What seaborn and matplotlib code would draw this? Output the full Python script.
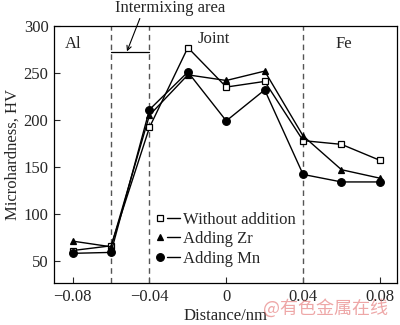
import matplotlib
matplotlib.use("Agg")
import matplotlib.pyplot as plt
from matplotlib.lines import Line2D
from matplotlib.legend_handler import HandlerTuple
import seaborn as sns
import pandas as pd

# Microhardness profile across the Al/Fe joint
distance = [-0.08, -0.06, -0.04, -0.02, 0.0, 0.02, 0.04, 0.06, 0.08]
hv_without = [61, 66, 192, 277, 235, 241, 178, 174, 157]
hv_zr = [71, 65, 205, 248, 242, 252, 183, 147, 138]
hv_mn = [58, 59, 211, 251, 199, 232, 142, 134, 134]

series_names = ["Without addition", "Adding Zr", "Adding Mn"]
x_ticks = [-0.08, -0.04, 0, 0.04, 0.08]
x_tick_labels = ["\u22120.08", "\u22120.04", "0", "0.04", "0.08"]
y_ticks = [50, 100, 150, 200, 250, 300]
region_labels = ["Al", "Joint", "Fe"]
boundaries = [-0.06, -0.04, 0.04]

sns.set_style("ticks")
plt.rcParams["font.family"] = ["Liberation Serif", "DejaVu Serif"]
plt.rcParams["xtick.direction"] = "in"
plt.rcParams["ytick.direction"] = "in"

fig = plt.figure(figsize=(4.0, 3.25), dpi=100)
ax = fig.add_axes([0.135, 0.128, 0.8575, 0.792])

df = pd.DataFrame({
    "Distance": distance * 3,
    "HV": hv_without + hv_zr + hv_mn,
    "Series": sum([[n] * len(distance) for n in series_names], []),
})

styles = {
    "Without addition": dict(marker="s", mfc="white", ms=5),
    "Adding Zr": dict(marker="^", mfc="black", ms=5),
    "Adding Mn": dict(marker="o", mfc="black", ms=5.5),
}

for name in series_names:
    sub = df[df["Series"] == name]
    st = styles[name]
    sns.lineplot(data=sub, x="Distance", y="HV", ax=ax, color="black",
                 linewidth=1.0, marker=st["marker"], markersize=st["ms"],
                 markerfacecolor=st["mfc"], markeredgecolor="black",
                 markeredgewidth=0.9, legend=False, zorder=3)

# Region boundaries
for b in boundaries:
    ax.axvline(b, color="#555555", linestyle=(0, (4, 3)), linewidth=1.0, zorder=1)

ax.set_xlim(-0.0897, 0.0889)
ax.set_ylim(26, 300)
ax.set_xticks(x_ticks)
ax.set_xticklabels(x_tick_labels)
ax.set_yticks(y_ticks)
ax.tick_params(labelsize=12, length=4, width=0.8, pad=4)
for s in ax.spines.values():
    s.set_linewidth(0.9)
    s.set_color("black")
ax.set_xlabel("Distance/nm", fontsize=12, labelpad=2)
ax.set_ylabel("Microhardness, HV", fontsize=12, labelpad=2)

# Region labels
ax.text(-0.0795, 281, region_labels[0], fontsize=12, ha="center", va="center")
ax.text(-0.0065, 286, region_labels[1], fontsize=12, ha="center", va="center")
ax.text(0.061, 281, region_labels[2], fontsize=12, ha="center", va="center")

# Intermixing bracket and annotation
ax.plot([-0.06, -0.04], [272, 272], color="black", linewidth=0.9)
ax.text(-0.0292, 319, "Intermixing area", fontsize=12, ha="center", va="center",
        clip_on=False)
ax.annotate("", xy=(-0.0517, 273), xytext=(-0.0450, 308),
            textcoords="data", annotation_clip=False,
            arrowprops=dict(arrowstyle="->", color="black", lw=0.8,
                            shrinkA=0, shrinkB=0, mutation_scale=8))

# Legend: marker followed by a line segment
handles = []
for name in series_names:
    st = styles[name]
    mk = Line2D([], [], linestyle="none", marker=st["marker"], markersize=st["ms"],
                markerfacecolor=st["mfc"], markeredgecolor="black", markeredgewidth=0.9)
    ln = Line2D([], [], color="black", linewidth=1.0)
    handles.append((mk, ln))
leg = ax.legend(handles, series_names,
                handler_map={tuple: HandlerTuple(ndivide=None, pad=0.1)},
                loc="upper left", bbox_to_anchor=(0.27, 0.305), frameon=False,
                fontsize=12, handlelength=1.6, handletextpad=0.2, labelspacing=0.22,
                borderaxespad=0)
leg.set_zorder(5)

fig.text(0.815, 0.05, "@有色金属在线", fontsize=13, color="#e06060", alpha=0.55,
         ha="center", va="center", family=["Noto Sans CJK SC", "DejaVu Sans"])

fig.savefig("out.png", dpi=100)
